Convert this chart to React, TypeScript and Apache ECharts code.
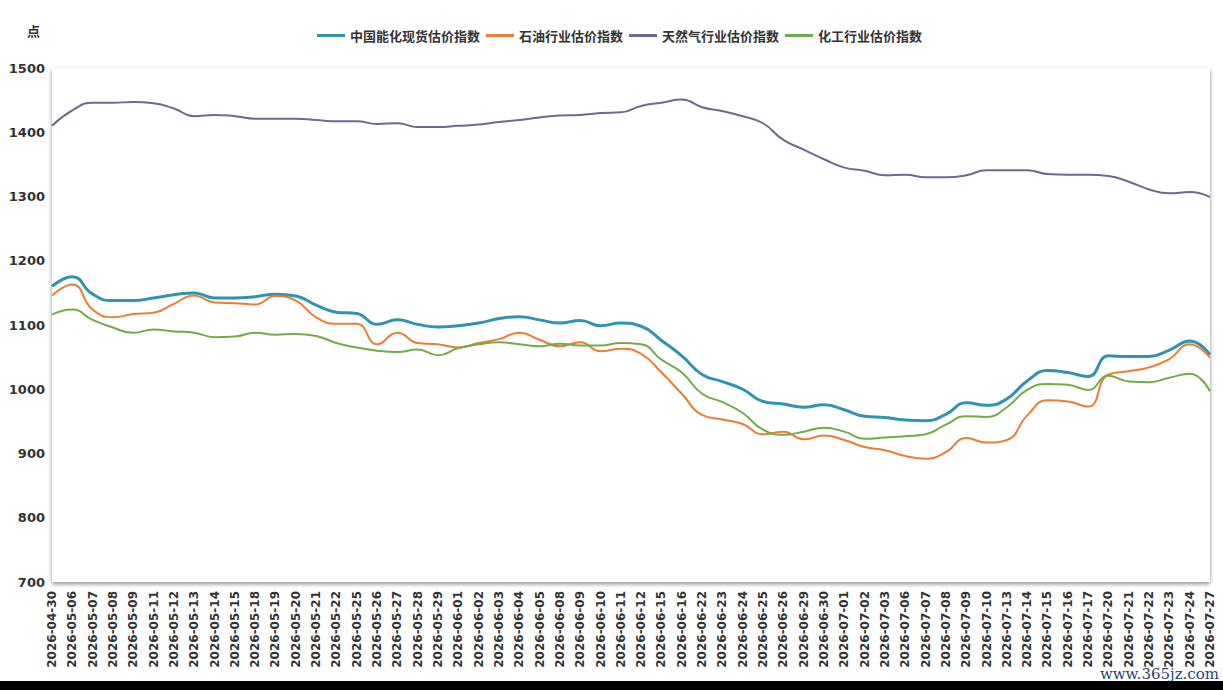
import React, { useEffect, useRef } from "react";
import * as echarts from "echarts";

const categories = [
  "2026-04-30", "2026-05-06", "2026-05-07", "2026-05-08", "2026-05-09", "2026-05-11", "2026-05-12", "2026-05-13",
  "2026-05-14", "2026-05-15", "2026-05-18", "2026-05-19", "2026-05-20", "2026-05-21", "2026-05-22", "2026-05-25",
  "2026-05-26", "2026-05-27", "2026-05-28", "2026-05-29", "2026-06-01", "2026-06-02", "2026-06-03", "2026-06-04",
  "2026-06-05", "2026-06-08", "2026-06-09", "2026-06-10", "2026-06-11", "2026-06-12", "2026-06-15", "2026-06-16",
  "2026-06-22", "2026-06-23", "2026-06-24", "2026-06-25", "2026-06-26", "2026-06-29", "2026-06-30", "2026-07-01",
  "2026-07-02", "2026-07-03", "2026-07-06", "2026-07-07", "2026-07-08", "2026-07-09", "2026-07-10", "2026-07-13",
  "2026-07-14", "2026-07-15", "2026-07-16", "2026-07-17", "2026-07-20", "2026-07-21", "2026-07-22", "2026-07-23",
  "2026-07-24", "2026-07-27",
];

const energyChemIndex = [
  1160, 1175, 1148, 1138, 1138, 1142, 1147, 1150, 1142, 1142, 1144, 1148, 1145, 1131, 1120, 1118,
  1101, 1108, 1101, 1097, 1099, 1103, 1110, 1113, 1108, 1103, 1107, 1099, 1103, 1098, 1076, 1052,
  1023, 1012, 1000, 981, 977, 972, 976, 968, 958, 956, 952, 951, 961, 979, 975, 985,
  1013, 1029, 1026, 1020, 1052, 1051, 1051, 1061, 1075, 1054,
];

const oilIndex = [
  1146, 1163, 1124, 1112, 1117, 1119, 1133, 1146, 1135, 1134, 1132, 1145, 1138, 1112, 1102, 1102,
  1070, 1088, 1072, 1070, 1065, 1072, 1078, 1088, 1077, 1067, 1073, 1059, 1063, 1055, 1026, 993,
  960, 953, 946, 930, 934, 922, 928, 921, 910, 905, 896, 892, 902, 924, 917, 921,
  959, 983, 981, 973, 1023, 1028, 1034, 1047, 1070, 1049,
];

const gasIndex = [
  1410, 1434, 1446, 1446, 1447, 1445, 1437, 1425, 1427, 1425, 1421, 1421, 1421, 1419, 1417, 1417,
  1413, 1414, 1408, 1408, 1410, 1412, 1416, 1419, 1423, 1426, 1427, 1430, 1431, 1441, 1446, 1451,
  1439, 1433, 1425, 1414, 1388, 1373, 1358, 1345, 1340, 1333, 1334, 1330, 1330, 1333, 1341, 1341,
  1341, 1335, 1334, 1334, 1332, 1323, 1311, 1305, 1307, 1299,
];

const chemIndex = [
  1116, 1124, 1108, 1096, 1088, 1093, 1090, 1088, 1081, 1082, 1088, 1085, 1086, 1083, 1072, 1065,
  1060, 1058, 1062, 1053, 1064, 1070, 1073, 1070, 1067, 1071, 1068, 1068, 1072, 1070, 1046, 1026,
  993, 980, 963, 937, 929, 934, 940, 934, 923, 925, 927, 930, 945, 958, 957, 972,
  999, 1008, 1007, 999, 1021, 1012, 1011, 1018, 1024, 997,
];

const seriesNames = ["中国能化现货估价指数", "石油行业估价指数", "天然气行业估价指数", "化工行业估价指数"];
const seriesColors = ["#2E94B0", "#ED7D31", "#6C6A91", "#70AD47"];
const seriesData = [energyChemIndex, oilIndex, gasIndex, chemIndex];
const seriesWidths = [3, 2, 2, 2];

const yTicks = { min: 700, max: 1500, interval: 100 };

export default function App() {
  const ref = useRef<HTMLDivElement>(null);

  useEffect(() => {
    if (!ref.current) return;
    const chart = echarts.init(ref.current, null, { renderer: "svg" });
    const font = "'DejaVu Sans', Verdana, sans-serif";
    chart.setOption({
      animation: false,
      backgroundColor: "#ffffff",
      legend: {
        top: 24,
        left: 312,
        icon: "rect",
        itemWidth: 28,
        itemHeight: 3,
        itemGap: 6,
        textStyle: {
          fontFamily: "'Noto Sans CJK SC', sans-serif",
          fontSize: 13,
          fontWeight: "bold",
          color: "#333333",
        },
        data: seriesNames,
      },
      graphic: [
        {
          type: "text",
          left: 27,
          top: 24,
          style: {
            text: "点",
            fontFamily: "'Noto Sans CJK SC', sans-serif",
            fontSize: 13,
            fontWeight: "bold",
            fill: "#333333",
          },
        },
        {
          type: "text",
          right: 4,
          bottom: 0,
          z: 100,
          style: {
            text: "www.365jz.com",
            fontFamily: "'DejaVu Serif', 'Liberation Serif', serif",
            fontSize: 15,
            fill: "#1f3f73",
          },
        },
      ],
      grid: {
        left: 52,
        right: 13,
        top: 68,
        bottom: 99,
        show: true,
        backgroundColor: "#ffffff",
        borderWidth: 0,
        shadowColor: "rgba(0,0,0,0.45)",
        shadowBlur: 4,
        shadowOffsetY: 2,
      },
      xAxis: {
        type: "category",
        data: categories,
        boundaryGap: false,
        axisLine: { show: false },
        axisTick: { show: false },
        axisLabel: {
          rotate: 90,
          interval: 0,
          margin: 9,
          fontFamily: font,
          fontSize: 12,
          fontWeight: "bold",
          color: "#333333",
        },
        splitLine: { show: false },
      },
      yAxis: {
        type: "value",
        min: yTicks.min,
        max: yTicks.max,
        interval: yTicks.interval,
        axisLine: { show: false },
        axisTick: { show: false },
        splitLine: { show: false },
        axisLabel: {
          margin: 7,
          formatter: (v: number) => String(v),
          fontFamily: font,
          fontSize: 13,
          fontWeight: "bold",
          color: "#333333",
        },
      },
      series: seriesNames.map((name, i) => ({
        name,
        type: "line",
        data: seriesData[i],
        smooth: true,
        symbol: "none",
        lineStyle: { color: seriesColors[i], width: seriesWidths[i] },
        itemStyle: { color: seriesColors[i] },
      })),
    });
    return () => chart.dispose();
  }, []);

  return (
    <div style={{ position: "fixed", left: 0, top: 0, width: 1223, height: 690, background: "#000000" }}>
      <div ref={ref} style={{ width: 1223, height: 681 }} />
    </div>
  );
}
